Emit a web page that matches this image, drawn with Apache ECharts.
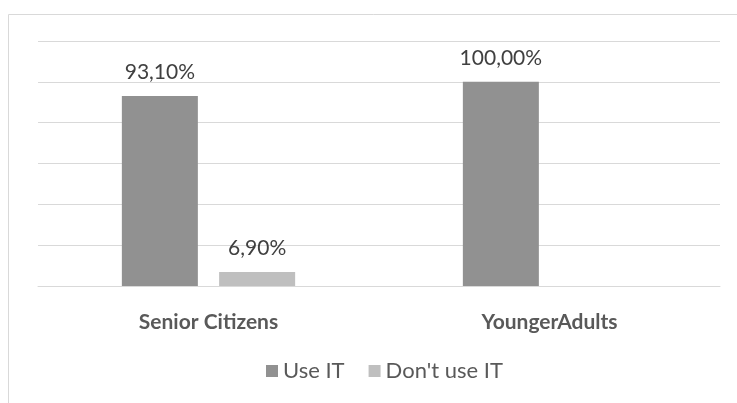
<!DOCTYPE html>
<html>
<head>
<meta charset="utf-8">
<script src="https://cdn.jsdelivr.net/npm/echarts@6/dist/echarts.min.js"></script>
<style>
  html, body { margin: 0; padding: 0; background: #fff; }
  #chart { width: 737px; height: 403px; }
</style>
</head>
<body>
<div id="chart"></div>
<script>
// 数据
const categories = ['Senior Citizens', 'YoungerAdults'];
const seriesNames = ['Use IT', "Don't use IT"];
const useIT = [93.1, 100];
const dontUseIT = [6.9, null];
const yTicks = [0, 20, 40, 60, 80, 100, 120];

const fontFamily = 'Lato, "Open Sans", sans-serif';

// 百分比格式（逗号小数）
const pct = v => v.toFixed(2).replace('.', ',') + '%';

const chart = echarts.init(document.getElementById('chart'));

const labelStyle = {
    show: true,
    position: 'top',
    distance: 13,
    color: '#404040',
    fontSize: 21,
    fontFamily: fontFamily,
    formatter: p => pct(p.value)
};

chart.setOption({
    animation: false,
    graphic: [{
        type: 'rect',
        shape: { x: 8.5, y: 14.5, width: 760, height: 420 },
        style: { fill: 'none', stroke: '#d9d9d9', lineWidth: 1 },
        silent: true
    }],
    grid: { left: 38, right: 17, top: 41, bottom: 117 },
    legend: {
        data: seriesNames,
        left: 261,
        top: 355,
        itemWidth: 12,
        itemHeight: 12,
        itemGap: 24,
        icon: 'rect',
        textStyle: { color: '#595959', fontSize: 22, lineHeight: 22, fontFamily: fontFamily }
    },
    xAxis: {
        type: 'category',
        data: categories,
        axisLine: { lineStyle: { color: '#d9d9d9', width: 1 } },
        axisTick: { show: false },
        axisLabel: {
            color: '#595959',
            fontSize: 21,
            fontWeight: 'bold',
            fontFamily: fontFamily,
            margin: 26
        }
    },
    yAxis: {
        type: 'value',
        min: yTicks[0],
        max: yTicks[yTicks.length - 1],
        interval: yTicks[1] - yTicks[0],
        axisLabel: { show: false },
        axisLine: { show: false },
        axisTick: { show: false },
        splitLine: { lineStyle: { color: '#d9d9d9', width: 1 } }
    },
    series: [{
        name: seriesNames[0],
        type: 'bar',
        data: useIT,
        barWidth: 76,
        barGap: '28%',
        itemStyle: { color: '#919191' },
        label: labelStyle
    }, {
        name: seriesNames[1],
        type: 'bar',
        data: dontUseIT,
        barWidth: 76,
        itemStyle: { color: '#bfbfbf' },
        label: labelStyle
    }]
});
</script>
</body>
</html>
